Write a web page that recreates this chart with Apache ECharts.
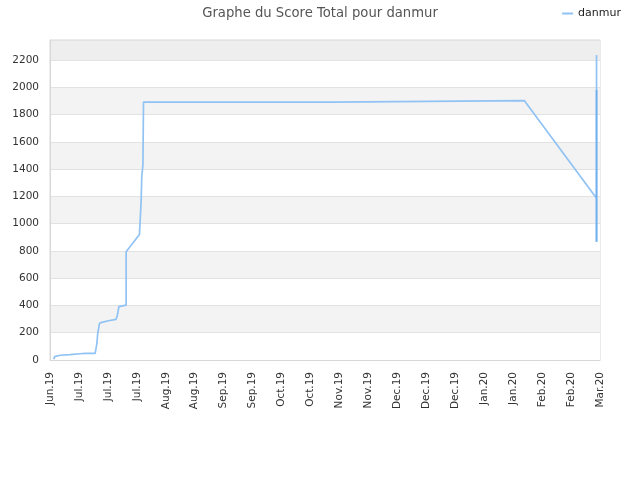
<!DOCTYPE html>
<html lang="fr" style="height: 100%">
<head>
  <meta charset="utf-8">
</head>
<body style="height: 100%; margin: 0">
  <div id="container" style="height: 100%"></div>
  <script type="text/javascript" src="https://fastly.jsdelivr.net/npm/echarts@6/dist/echarts.min.js"></script>
  <script type="text/javascript">
    // x labels (one per tick, ticks evenly spaced)
    const tickLabels = ['Jun.19', 'Jul.19', 'Jul.19', 'Jul.19', 'Aug.19', 'Aug.19', 'Sep.19', 'Sep.19',
      'Oct.19', 'Oct.19', 'Nov.19', 'Nov.19', 'Dec.19', 'Dec.19', 'Dec.19', 'Jan.20', 'Jan.20',
      'Feb.20', 'Feb.20', 'Mar.20'];
    // position of each point, in tick units (0 = first label)
    const xPos = [0.13, 0.16, 0.35, 0.69, 1.04, 1.21, 1.56, 1.62, 1.65, 1.71, 1.79, 2.02, 2.28, 2.33,
      2.38, 2.42, 2.63, 2.63, 3.09, 3.11, 3.15, 3.17, 3.21, 3.23, 9.79, 9.79, 16.39, 18.88, 18.88, 18.88, 18.88];
    const score = [5, 25, 35, 39, 46, 49, 49, 122, 196, 269, 276, 288, 298, 330,
      391, 403, 403, 794, 921, 1002, 1173, 1344, 1430, 1892, 1892, 1900, 1902, 1186, 2237, 868, 1980];

    const dom = document.getElementById('container');
    const myChart = echarts.init(dom, null, { renderer: 'canvas' });

    const bands = [];
    for (let i = 0; i < 11; i++) bands.push(i % 2 ? '#f3f3f3' : '#ffffff');
    bands.push('#eeeeee');

    const points = xPos.map(function (x, i) { return [x, score[i]]; });

    const option = {
      animation: false,
      textStyle: { fontFamily: 'DejaVu Sans' },
      title: {
        text: 'Graphe du Score Total pour danmur',
        left: 'center',
        top: 2,
        textStyle: { fontSize: 13.2, fontWeight: 'normal', color: '#555', fontFamily: 'DejaVu Sans' }
      },
      legend: {
        right: 14,
        top: 3,
        itemWidth: 11,
        itemHeight: 2,
        icon: 'rect',
        textStyle: { fontSize: 11, color: '#222' },
        data: ['danmur']
      },
      grid: {
        left: 50, right: 40, top: 40, bottom: 120,
        show: true, borderColor: '#d8d8d8', borderWidth: 1
      },
      xAxis: {
        type: 'value',
        min: 0,
        max: tickLabels.length - 1,
        interval: 1,
        axisLine: { show: true, lineStyle: { color: '#d8d8d8' } },
        axisTick: { show: false },
        splitLine: { show: false },
        axisLabel: {
          rotate: 90,
          fontSize: 10.5,
          color: '#333',
          margin: 12,
          formatter: function (v) { return tickLabels[Math.round(v)]; }
        }
      },
      yAxis: {
        type: 'value',
        min: 0,
        max: 2347,
        interval: 200,
        axisLine: { show: true, lineStyle: { color: '#d8d8d8' } },
        axisTick: { show: false },
        splitLine: { show: true, lineStyle: { color: '#e2e2e2' } },
        splitArea: { show: true, areaStyle: { color: bands } },
        axisLabel: {
          fontSize: 10.5, color: '#333', margin: 11, showMaxLabel: false,
          formatter: function (v) { return String(v); }
        }
      },
      series: [
        {
          name: 'danmur',
          type: 'line',
          showSymbol: false,
          symbol: 'none',
          lineStyle: { color: '#90c3f4', width: 1.7 },
          itemStyle: { color: '#90c3f4' },
          data: points
        },
        {
          // overlapping passes on the last day look darker
          name: 'overlap',
          type: 'line',
          showSymbol: false,
          symbol: 'none',
          silent: true,
          lineStyle: { color: '#6eaeef', width: 1.7 },
          data: points.slice(-2)
        }
      ]
    };

    myChart.setOption(option);
    window.addEventListener('resize', myChart.resize);
  </script>
</body>
</html>
